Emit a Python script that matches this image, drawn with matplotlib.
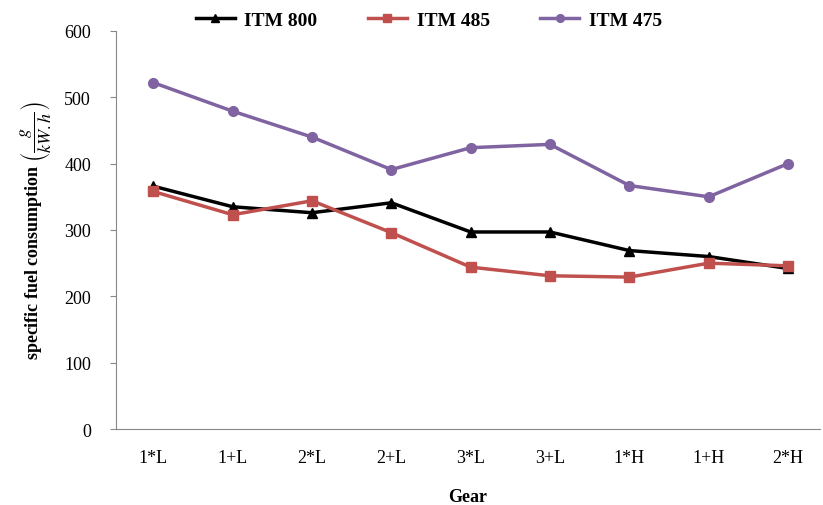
import matplotlib.pyplot as plt

gears = ["1*L", "1+L", "2*L", "2+L", "3*L", "3+L", "1*H", "1+H", "2*H"]
itm800 = [366, 335, 326, 341, 297, 297, 269, 260, 242]
itm485 = [358, 323, 344, 296, 244, 231, 229, 250, 246]
itm475 = [522, 479, 440, 391, 424, 429, 367, 350, 400]

plt.rcParams['font.family'] = ['Liberation Serif', 'DejaVu Serif']
plt.rcParams['mathtext.fontset'] = 'stix'

fig = plt.figure(figsize=(8.23, 5.06), dpi=100)
ax = fig.add_axes([0.141, 0.150, 0.855, 0.787])

x = list(range(len(gears)))
ax.plot(x, itm800, c="black", lw=2.5, marker="^", ms=7, label="ITM 800")
ax.plot(x, itm485, c="#C0504D", lw=2.5, marker="s", ms=7, label="ITM 485")
ax.plot(x, itm475, c="#8064A2", lw=2.5, marker="o", ms=7, label="ITM 475")

ax.set_xlim(-0.47, 8.4)
ax.set_ylim(0, 600)
ax.set_yticks(range(0, 601, 100))
ax.set_xticks(x)
ax.set_xticklabels(gears, fontsize=13)
ax.tick_params(axis="y", labelsize=13, length=4, color="#888888", pad=14)
ax.tick_params(axis="x", length=0, pad=14)

for side in ["top", "right"]:
    ax.spines[side].set_visible(False)
for side in ["left", "bottom"]:
    ax.spines[side].set_color("#888888")

ax.set_xlabel("Gear", fontsize=13, fontweight="bold", labelpad=16)
ax.set_ylabel(r"specific fuel consumption $\left(\dfrac{g}{kW.h}\right)$",
              fontsize=13, fontweight="bold", labelpad=8)

fig.legend(loc="upper center", bbox_to_anchor=(0.521, 1.01), ncol=3, frameon=False,
           prop={"weight": "bold", "size": 14}, handlelength=2.0, handletextpad=0.5,
           columnspacing=2.6, markerscale=0.8)

fig.savefig("out.png", dpi=100)
